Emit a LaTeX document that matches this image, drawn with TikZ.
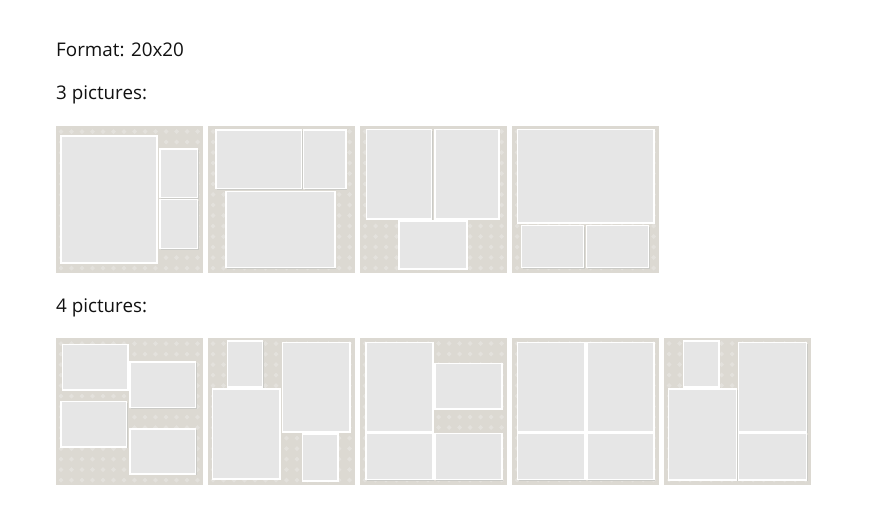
\documentclass[tikz,border=0pt]{standalone}
\usepackage{fontspec}
\setmainfont{Open Sans}
\definecolor{paper}{HTML}{DCD9D2}
\definecolor{paperlight}{HTML}{E3E1DC}
\definecolor{photo}{HTML}{E6E6E6}
\definecolor{shade}{HTML}{CACAC6}
\definecolor{txt}{HTML}{111111}
\tikzset{
  page/.style={fill=paper, draw=none},
  photobox/.style={fill=photo, draw=white, line width=1.1pt},
  shadowbox/.style={fill=shade, draw=none},
  caption/.style={anchor=base west, inner sep=0pt, text=txt, font=\fontsize{18.8}{22}\selectfont},
}
\newcommand{\thumb}[2]{%
  \fill[page] (#1,#2) rectangle ++(147,147);
  \foreach \i in {0,...,13}{\foreach \j in {0,...,13}{%
    \fill[paperlight] ({#1+5+\i*10.5},{#2+3+\j*10.5}) -- ++(2.5,2.5) -- ++(-2.5,2.5) -- ++(-2.5,-2.5) -- cycle;}}%
}
\newcommand{\photo}[4]{%
  \fill[shadowbox] ({#1+1.2},{#2+1.2}) rectangle ({#3+1.2},{#4+1.2});
  \filldraw[photobox] (#1,#2) rectangle (#3,#4);
}
\begin{document}
\begin{tikzpicture}[x=1pt,y=-1pt]
\useasboundingbox[fill=white] (0,0) rectangle (890,506);
\node[caption] (fmt) at (56,56) {Format: 20x20};
\node[caption] (three) at (56,99) {3 pictures:};
\node[caption] (four) at (56,312) {4 pictures:};
% row 1
\thumb{56}{126}\thumb{208}{126}\thumb{360}{126}\thumb{512}{126}
\photo{61}{136}{157}{263}
\photo{160}{149}{197.5}{197.5}
\photo{160}{199.5}{197.5}{248.5}
\photo{216}{130}{301.5}{188.5}
\photo{303.5}{130}{346}{188.5}
\photo{226}{191.5}{335}{267.5}
\photo{366.5}{129.5}{431.5}{219}
\photo{435}{129.5}{499}{219}
\photo{399}{221}{467}{269}
\photo{517.5}{129.5}{654}{223}
\photo{521.5}{225.5}{583.5}{267.5}
\photo{586.5}{225.5}{648.5}{267.5}
% row 2
\thumb{56}{338}\thumb{208}{338}\thumb{360}{338}\thumb{512}{338}\thumb{664}{338}
\photo{62.5}{344.5}{128}{390}
\photo{130}{362}{195.5}{407.5}
\photo{61}{401.5}{126.5}{447}
\photo{130}{429}{195.5}{474}
\photo{227.5}{341}{262.5}{387}
\photo{212.5}{389}{280}{479}
\photo{282.5}{342.5}{350}{432}
\photo{302.5}{434}{338}{481}
\photo{366}{342.5}{433}{432}
\photo{435}{363.5}{502}{409}
\photo{366}{433.5}{433}{479.5}
\photo{435}{433.5}{502}{479.5}
\photo{517.5}{342.5}{585}{432}
\photo{587}{342.5}{654}{432}
\photo{517.5}{433.5}{585}{479.5}
\photo{587}{433.5}{654}{479.5}
\photo{683.5}{341}{719}{387}
\photo{668.5}{389}{736.5}{480}
\photo{738.5}{342.5}{806.5}{432}
\photo{738.5}{433.5}{806.5}{480}
\end{tikzpicture}
\end{document}
